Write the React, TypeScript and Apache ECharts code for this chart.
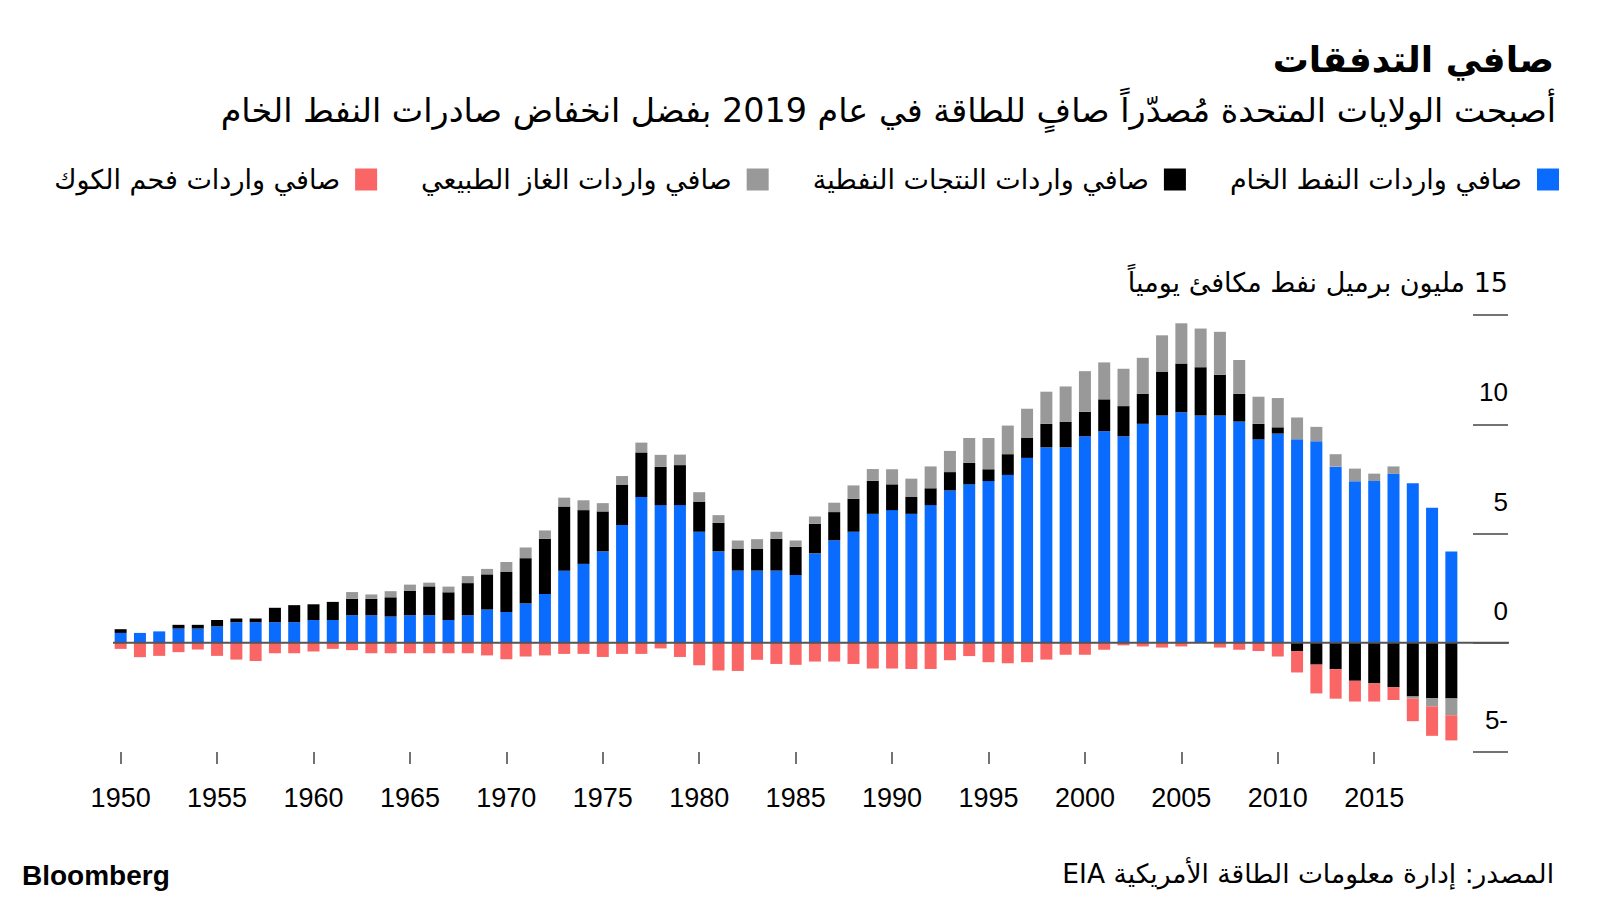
import React, { useEffect, useRef } from 'react';
import * as echarts from 'echarts';

const years = [
  '1950','1951','1952','1953','1954','1955','1956','1957','1958','1959',
  '1960','1961','1962','1963','1964','1965','1966','1967','1968','1969',
  '1970','1971','1972','1973','1974','1975','1976','1977','1978','1979',
  '1980','1981','1982','1983','1984','1985','1986','1987','1988','1989',
  '1990','1991','1992','1993','1994','1995','1996','1997','1998','1999',
  '2000','2001','2002','2003','2004','2005','2006','2007','2008','2009',
  '2010','2011','2012','2013','2014','2015','2016','2017','2018','2019'
];

const crude = [
  0.45, 0.45, 0.52, 0.65, 0.65, 0.75, 0.94, 0.94, 0.94, 0.94,
  1.04, 1.04, 1.26, 1.26, 1.20, 1.26, 1.26, 1.04, 1.26, 1.52,
  1.41, 1.80, 2.23, 3.30, 3.61, 4.18, 5.39, 6.67, 6.30, 6.30,
  5.08, 4.18, 3.30, 3.30, 3.30, 3.10, 4.09, 4.69, 5.08, 5.90,
  6.07, 5.90, 6.30, 6.97, 7.25, 7.40, 7.68, 8.46, 8.94, 8.94,
  9.45, 9.68, 9.45, 10.02, 10.40, 10.55, 10.40, 10.40, 10.12, 9.31,
  9.57, 9.31, 9.22, 8.06, 7.39, 7.40, 7.73, 7.30, 6.18, 4.18
];

const products = [
  0.17, 0, 0, 0.17, 0.17, 0.29, 0.17, 0.17, 0.66, 0.78,
  0.72, 0.83, 0.75, 0.75, 0.88, 1.11, 1.32, 1.27, 1.47, 1.61,
  1.83, 2.07, 2.53, 2.93, 2.46, 1.83, 1.83, 2.04, 1.75, 1.83,
  1.38, 1.31, 1.01, 1.01, 1.46, 1.29, 1.35, 1.29, 1.51, 1.51,
  1.18, 0.77, 0.77, 0.84, 0.98, 0.54, 0.95, 0.91, 1.08, 1.18,
  1.12, 1.46, 1.38, 1.38, 2.01, 2.23, 2.21, 1.86, 1.27, 0.71,
  0.29, -0.38, -1.00, -1.21, -1.74, -1.86, -2.04, -2.46, -2.53, -2.55
];

const gas = [
  0, 0, 0, 0, 0, 0, 0, 0, 0, 0,
  0, 0, 0.31, 0.20, 0.28, 0.29, 0.17, 0.26, 0.32, 0.25,
  0.45, 0.49, 0.38, 0.41, 0.45, 0.38, 0.41, 0.45, 0.55, 0.48,
  0.43, 0.35, 0.37, 0.43, 0.32, 0.29, 0.34, 0.43, 0.61, 0.54,
  0.69, 0.84, 1.00, 0.97, 1.14, 1.43, 1.31, 1.34, 1.47, 1.61,
  1.86, 1.69, 1.71, 1.64, 1.66, 1.84, 1.77, 1.97, 1.55, 1.24,
  1.34, 1.00, 0.66, 0.57, 0.58, 0.34, 0.34, -0.09, -0.38, -0.77
];

const coal = [
  -0.28, -0.66, -0.60, -0.43, -0.31, -0.60, -0.77, -0.84, -0.48, -0.48,
  -0.40, -0.28, -0.34, -0.48, -0.48, -0.48, -0.48, -0.48, -0.48, -0.58,
  -0.75, -0.63, -0.58, -0.51, -0.51, -0.65, -0.51, -0.51, -0.26, -0.65,
  -1.03, -1.27, -1.29, -0.78, -0.97, -1.01, -0.86, -0.86, -0.97, -1.18,
  -1.18, -1.20, -1.20, -0.80, -0.61, -0.89, -0.94, -0.89, -0.77, -0.55,
  -0.55, -0.32, -0.12, -0.17, -0.22, -0.17, 0, -0.22, -0.32, -0.38,
  -0.63, -0.98, -1.32, -1.35, -0.95, -0.83, -0.58, -1.04, -1.35, -1.15
];

const seriesNames = [
  'صافي واردات النفط الخام',
  'صافي واردات النتجات النفطية',
  'صافي واردات الغاز الطبيعي',
  'صافي واردات فحم الكوك'
];
const seriesColors = ['#0a6cff', '#000000', '#999999', '#fa6565'];

const titleText = 'صافي التدفقات';
const subtitleText = 'أصبحت الولايات المتحدة مُصدّراً صافٍ للطاقة في عام 2019 بفضل انخفاض صادرات النفط الخام';
const unitText = '\u202B15 مليون برميل نفط مكافئ يومياً\u202C';
const sourceText = '\u202Bالمصدر: إدارة معلومات الطاقة الأمريكية EIA\u202C';
const brandText = 'Bloomberg';

const AR = "'DejaVu Sans', sans-serif";
const NUM = "'Liberation Sans', Arial, sans-serif";
const GRID_LEFT = 111;
const GRID_RIGHT_EDGE = 1461;

export default function App() {
  const ref = useRef<HTMLDivElement>(null);

  useEffect(() => {
    const chart = echarts.init(ref.current!, null, { renderer: 'svg' });
    const data = [crude, products, gas, coal];
    const option: any = {
      animation: false,
      backgroundColor: '#ffffff',
      grid: {
        left: GRID_LEFT,
        right: 1600 - GRID_RIGHT_EDGE,
        top: 315,
        height: 437,
        containLabel: false
      },
      legend: {
        data: [seriesNames[3], seriesNames[2], seriesNames[1], seriesNames[0]],
        right: 41,
        top: 166,
        padding: 0,
        align: 'right',
        icon: 'rect',
        itemWidth: 22,
        itemHeight: 22,
        itemGap: 44,
        textStyle: { fontFamily: AR, fontSize: 27, color: '#000', padding: [0, 10, 0, 0] },
        selectedMode: false
      },
      xAxis: {
        type: 'category',
        data: years,
        axisLine: { show: false, onZero: false },
        axisTick: {
          show: true,
          interval: 4,
          alignWithLabel: true,
          length: 12,
          lineStyle: { color: '#444', width: 1.5 }
        },
        axisLabel: {
          interval: 4,
          margin: 32,
          fontFamily: NUM,
          fontSize: 27,
          color: '#000'
        },
        splitLine: { show: false }
      },
      yAxis: {
        type: 'value',
        position: 'right',
        offset: 12,
        min: -5,
        max: 15,
        interval: 5,
        axisLine: { show: false },
        axisTick: {
          show: true,
          inside: false,
          length: 35,
          lineStyle: { color: '#444', width: 1.5 }
        },
        splitLine: { show: false },
        axisLabel: {
          align: 'right',
          verticalAlign: 'bottom',
          margin: 35,
          padding: [0, 0, 19, 0],
          fontFamily: NUM,
          fontSize: 26,
          color: '#000',
          formatter: (v: number) => {
            if (v === 15) return '{t|' + unitText + '}';
            if (v < 0) return String(-v) + '-';
            return String(v);
          },
          rich: {
            t: { fontFamily: AR, fontSize: 27, color: '#000' }
          }
        }
      },
      series: data.map((values, i) => ({
        name: seriesNames[i],
        type: 'bar',
        stack: 'total',
        barWidth: 12,
        itemStyle: { color: seriesColors[i] },
        emphasis: { disabled: true },
        data: values
      })),
      graphic: [
        {
          id: 'title', type: 'text', right: 46, top: 41,
          style: { text: titleText, fontFamily: AR, fontWeight: 'bold', fontSize: 36, fill: '#000' }
        },
        {
          id: 'subtitle', type: 'text', right: 44, top: 94,
          style: { text: subtitleText, fontFamily: AR, fontSize: 33.4, fill: '#000' }
        },
        {
          id: 'source', type: 'text', right: 46, top: 860,
          style: { text: sourceText, fontFamily: AR, fontSize: 26.5, fill: '#000' }
        },
        {
          id: 'brand', type: 'text', left: 22, top: 861,
          style: { text: brandText, fontFamily: NUM, fontWeight: 'bold', fontSize: 28, fill: '#000' }
        }
      ]
    };
    chart.setOption(option);
    const y0 = chart.convertToPixel({ yAxisIndex: 0 }, 0) as number;
    chart.setOption({
      graphic: [
        {
          id: 'zero', type: 'line', z: 100,
          shape: { x1: GRID_LEFT + 2, y1: y0, x2: 1509, y2: y0 },
          style: { stroke: '#555', lineWidth: 2 }
        }
      ]
    });
    return () => chart.dispose();
  }, []);

  return (
    <div
      ref={ref}
      style={{ position: 'fixed', left: 0, top: 0, width: 1600, height: 900, background: '#fff' }}
    />
  );
}
